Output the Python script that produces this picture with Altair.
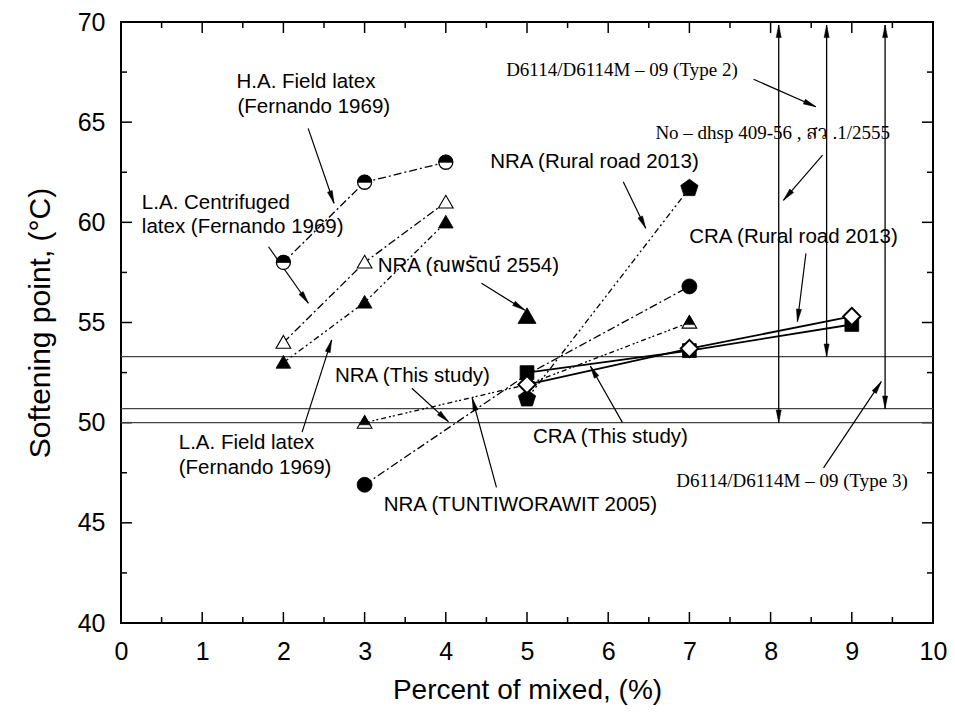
import math
import altair as alt
import pandas as pd

# ---------------- data ----------------
X_MIN, X_MAX = 0, 10
Y_MIN, Y_MAX = 40, 70
W, H = 812, 601

x_tick_labels = [0, 1, 2, 3, 4, 5, 6, 7, 8, 9, 10]
x_minor = [0.5, 1.5, 2.5, 3.5, 4.5, 5.5, 6.5, 7.5, 8.5, 9.5]
y_tick_labels = [40, 45, 50, 55, 60, 65, 70]
y_minor = [42.5, 47.5, 52.5, 57.5, 62.5, 67.5]

# H.A. Field latex (Fernando 1969) - half filled circle
ha_x = [2, 3, 4]
ha_y = [58.0, 62.0, 63.0]
# L.A. Centrifuged latex (Fernando 1969) - open triangle
lac_x = [2, 3, 4]
lac_y = [54.0, 58.0, 61.0]
# L.A. Field latex (Fernando 1969) - filled triangle
laf_x = [2, 3, 4]
laf_y = [53.0, 56.0, 60.0]
# NRA (ณพรัตน์ 2554) - big filled triangle
nap_x = [5]
nap_y = [55.3]
# NRA (TUNTIWORAWIT 2005) - filled circle
tun_x = [3, 5, 7]
tun_y = [46.9, 52.4, 56.8]
# NRA (Rural road 2013) - filled pentagon
rrn_x = [5, 7]
rrn_y = [51.2, 61.7]
# NRA (This study) - half filled triangle
nts_x = [3, 5, 7]
nts_y = [50.0, 51.9, 55.0]
# CRA - filled square
cts_x = [5, 7, 9]
cts_y = [52.5, 53.6, 54.9]
# CRA - open diamond
crr_x = [5, 7, 9]
crr_y = [51.9, 53.7, 55.3]

# specification limit lines
ref_y = [50.0, 50.7, 53.3]

# vertical double arrows
dbl_x = [8.10, 8.69, 9.41]
dbl_lo = [50.0, 53.3, 50.7]
dbl_hi = [69.85, 69.85, 69.85]

# annotation arrows (tail -> head)
arr_x1 = [2.305, 1.817, 2.230, 4.440, 6.185, 7.790, 8.640, 8.435, 3.582, 6.176, 4.624, 8.652]
arr_y1 = [64.69, 58.78, 49.53, 56.96, 62.03, 67.14, 63.36, 58.45, 51.72, 50.00, 46.77, 47.74]
arr_x2 = [2.623, 2.307, 2.594, 4.972, 6.462, 8.558, 8.158, 8.330, 4.032, 5.780, 4.326, 9.363]
arr_y2 = [60.95, 55.96, 54.13, 55.62, 59.70, 65.77, 61.10, 55.04, 50.05, 52.83, 51.22, 52.05]

# annotation texts
sans_labels = ["H.A. Field latex", "(Fernando 1969)", "L.A. Centrifuged", "latex (Fernando 1969)",
               "L.A. Field latex", "(Fernando 1969)", "NRA (ณพรัตน์ 2554)", "NRA (Rural road 2013)",
               "CRA (Rural road 2013)", "NRA (This study)", "CRA (This study)", "NRA (TUNTIWORAWIT 2005)"]
sans_x = [1.422, 1.434, 0.257, 0.257, 0.711, 0.711, 3.162, 4.547, 6.998, 2.635, 5.074, 3.235]
sans_y = [66.99, 65.77, 60.97, 59.77, 48.99, 47.74, 57.82, 63.01, 59.27, 52.33, 49.28, 45.89]

serif_labels = ["D6114/D6114M – 09 (Type 2)", "No – dhsp 409-56 , สว .1/2555", "D6114/D6114M – 09 (Type 3)"]
serif_x = [4.743, 6.581, 6.838]
serif_y = [67.60, 64.46, 47.09]

# ---------------- styling ----------------
SANS = "Liberation Sans, Arial, Noto Sans Thai, Loma, Garuda, sans-serif"
SERIF = "Liberation Serif, Times New Roman, Noto Serif Thai, Norasi, serif"

TRI = "M0,-1L1.04,0.8L-1.04,0.8Z"
TRI_TOP = "M0,-1L0.751,0.3L-0.751,0.3Z"
HALF_TOP = "M-1,0A1,1,0,0,1,1,0Z"
PENT = "M0,-1L0.951,-0.309L0.588,0.809L-0.588,0.809L-0.951,-0.309Z"
HEAD = "M0,0L0.42,2.1L-0.42,2.1Z"

XS = alt.Scale(domain=[X_MIN, X_MAX], nice=False, zero=False)
YS = alt.Scale(domain=[Y_MIN, Y_MAX], nice=False, zero=False)

XAX = alt.Axis(values=x_tick_labels, title="Percent of mixed, (%)", grid=False, ticks=False, tickSize=0,
               domain=False, labelFontSize=25, labelFont=SANS, labelColor="black", labelPadding=16,
               labelFlush=False, labelOverlap=False, format="d",
               titleFontSize=28, titleFont=SANS, titleFontWeight="normal", titleColor="black",
               titleX=W / 2, titleY=67, titleBaseline="middle", titleAlign="center")
YAX = alt.Axis(values=y_tick_labels, title="Softening point, (°C)", grid=False, ticks=False, tickSize=0,
               domain=False, labelFontSize=25, labelFont=SANS, labelColor="black", labelPadding=16,
               labelOverlap=False, format="d",
               titleFontSize=30, titleFont=SANS, titleFontWeight="normal", titleColor="black",
               titleX=-81, titleY=H / 2, titleAngle=270, titleBaseline="middle", titleAlign="center")


def X(f="x"):
    return alt.X(f, type="quantitative", scale=XS, axis=XAX)


def Y(f="y"):
    return alt.Y(f, type="quantitative", scale=YS, axis=YAX)


layers = []

# inward ticks
def tick_layer(vals, axis, length):
    df = pd.DataFrame({"v": vals})
    c = alt.Chart(df).mark_rule(color="black", strokeWidth=1.5)
    if axis == "bottom":
        return c.encode(x=X("v"), y=alt.value(H), y2=alt.value(H - length))
    if axis == "top":
        return c.encode(x=X("v"), y=alt.value(0), y2=alt.value(length))
    if axis == "left":
        return c.encode(y=Y("v"), x=alt.value(0), x2=alt.value(length))
    return c.encode(y=Y("v"), x=alt.value(W), x2=alt.value(W - length))


for ax in ["bottom", "top"]:
    layers.append(tick_layer(x_tick_labels, ax, 11))
    layers.append(tick_layer(x_minor, ax, 6))
for ax in ["left", "right"]:
    layers.append(tick_layer(y_tick_labels, ax, 11))
    layers.append(tick_layer(y_minor, ax, 6))

# horizontal reference lines
layers.append(alt.Chart(pd.DataFrame({"y": ref_y})).mark_rule(color="#444444", strokeWidth=1.3).encode(y=Y("y")))

# vertical double arrows
dbl = pd.DataFrame({"x": dbl_x, "y": dbl_lo, "y2": dbl_hi})
layers.append(alt.Chart(dbl).mark_rule(color="black", strokeWidth=1.3).encode(x=X("x"), y=Y("y"), y2="y2"))

sx = W / (X_MAX - X_MIN)
sy = H / (Y_MAX - Y_MIN)


def head_angle(x1, y1, x2, y2):
    dxs = (x2 - x1) * sx
    dys = -(y2 - y1) * sy
    return math.degrees(math.atan2(dxs, -dys)) % 360


heads_x, heads_y, heads_a = [], [], []
for x, lo, hi in zip(dbl_x, dbl_lo, dbl_hi):
    heads_x += [x, x]
    heads_y += [hi, lo]
    heads_a += [0.0, 180.0]

arr = pd.DataFrame({"x": arr_x1, "y": arr_y1, "x2": arr_x2, "y2": arr_y2})
layers.append(alt.Chart(arr).mark_rule(color="black", strokeWidth=1.2).encode(x=X("x"), y=Y("y"), x2="x2", y2="y2"))
for x1, y1, x2, y2 in zip(arr_x1, arr_y1, arr_x2, arr_y2):
    heads_x.append(x2)
    heads_y.append(y2)
    heads_a.append(head_angle(x1, y1, x2, y2))

heads = pd.DataFrame({"x": heads_x, "y": heads_y, "a": heads_a})
layers.append(alt.Chart(heads).mark_point(shape=HEAD, size=144, filled=True, fill="black", stroke="black",
                                          strokeWidth=0.5, opacity=1)
              .encode(x=X("x"), y=Y("y"), angle=alt.Angle("a:Q", scale=None)))


# series lines
def line(xs, ys, dash=None, sw=1.3):
    df = pd.DataFrame({"x": xs, "y": ys})
    kw = dict(color="black", strokeWidth=sw)
    if dash:
        kw["strokeDash"] = dash
    return alt.Chart(df).mark_line(**kw).encode(x=X("x"), y=Y("y"))


DASH_DOT = [8, 3, 2, 3]
DASH_DOT_DOT = [6, 3, 2, 3, 2, 3]
layers += [
    line(ha_x, ha_y, DASH_DOT),
    line(lac_x, lac_y, DASH_DOT),
    line(laf_x, laf_y, DASH_DOT_DOT),
    line(tun_x, tun_y, DASH_DOT),
    line(rrn_x, rrn_y, DASH_DOT_DOT),
    line(nts_x, nts_y, [5, 3, 2, 2, 2, 3]),
    line(cts_x, cts_y, None, 1.8),
    line(crr_x, crr_y, None, 1.8),
]


def pts(xs, ys, shape, size, fill, sw=1.2, skip=None):
    rows = [(a, b) for a, b in zip(xs, ys) if skip is None or a not in skip]
    df = pd.DataFrame(rows, columns=["x", "y"])
    return alt.Chart(df).mark_point(shape=shape, size=size, filled=True, fill=fill, stroke="black",
                                    strokeWidth=sw, opacity=1).encode(x=X("x"), y=Y("y"))


layers += [
    pts(rrn_x, rrn_y, PENT, 330, "black", 0.8),
    pts(tun_x, tun_y, "circle", 225, "black", 0.8, skip=[5]),
    pts(ha_x, ha_y, "circle", 196, "white", 1.3),
    pts(ha_x, ha_y, HALF_TOP, 196, "black", 0.8),
    pts(lac_x, lac_y, TRI, 200, "white", 1.1),
    pts(laf_x, laf_y, TRI, 200, "black", 0.8),
    pts(nap_x, nap_y, TRI, 300, "black", 0.8),
    pts(nts_x, nts_y, TRI, 200, "white", 1.1, skip=[5]),
    pts(nts_x, nts_y, TRI_TOP, 200, "black", 0.6, skip=[5]),
    pts(cts_x, cts_y, "square", 190, "black", 0.8),
    pts(crr_x, crr_y, "diamond", 300, "white", 2.0),
]

# annotation texts
sans_df = pd.DataFrame({"x": sans_x, "y": sans_y, "label": sans_labels})
serif_df = pd.DataFrame({"x": serif_x, "y": serif_y, "label": serif_labels})
layers.append(alt.Chart(sans_df).mark_text(align="left", baseline="middle", font=SANS, fontSize=20.5,
                                           color="black").encode(x=X("x"), y=Y("y"), text="label:N"))
layers.append(alt.Chart(serif_df).mark_text(align="left", baseline="middle", font=SERIF, fontSize=19,
                                            color="black").encode(x=X("x"), y=Y("y"), text="label:N"))

chart = (
    alt.layer(*layers)
    .properties(width=W, height=H,
                padding={"left": 113, "top": 14, "right": 14, "bottom": 82},
                autosize=alt.AutoSizeParams(type="none"))
    .configure_view(stroke="black", strokeWidth=2)
)

chart.save("out.html", embed_options={"renderer": "svg", "actions": False})
